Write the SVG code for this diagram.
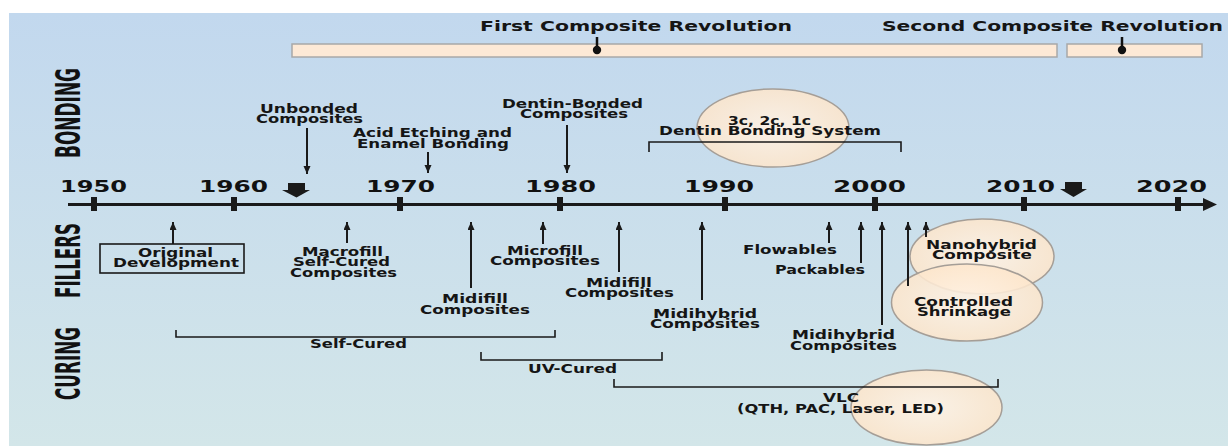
<svg xmlns="http://www.w3.org/2000/svg" width="1228" height="446" viewBox="0 0 1228 446">
<defs>
<linearGradient id="bg" x1="0" y1="0" x2="0" y2="1">
<stop offset="0" stop-color="#c2d8ee"/>
<stop offset="1" stop-color="#d3e6e9"/>
</linearGradient>
<radialGradient id="peach" cx="0.5" cy="0.5" r="0.5">
<stop offset="0" stop-color="#fff3e6"/>
<stop offset="1" stop-color="#fde6cc"/>
</radialGradient>
<marker id="ah" markerUnits="userSpaceOnUse" markerWidth="8" markerHeight="8" refX="8" refY="3.5" orient="auto">
<path d="M0,0 L8,3.5 L0,7 z" fill="#1a1a1a"/>
</marker>
<style>
.lbl{font-family:"DejaVu Sans",Verdana,sans-serif;font-weight:bold;font-size:12.5px;fill:#151515}
.rev{font-family:"DejaVu Sans",Verdana,sans-serif;font-weight:bold;font-size:14px;fill:#151515}
.yr{font-family:"DejaVu Sans",Verdana,sans-serif;font-weight:900;font-size:16.5px;fill:#111}
.cat{font-family:"DejaVu Sans Condensed","DejaVu Sans",sans-serif;font-weight:bold;font-size:33px;fill:#111}
.ln{stroke:#1a1a1a;stroke-width:2;fill:none}
.br{stroke:#1a1a1a;stroke-width:1.6;fill:none}
.ell{fill:url(#peach);fill-opacity:0.88;stroke:#a59e97;stroke-width:1.5}
.bar{fill:#fde9d6;stroke:#a8a8a8;stroke-width:1.5}
</style>
</defs>
<rect x="0" y="0" width="1228" height="446" fill="#ffffff"/>
<rect x="9" y="13" width="1219" height="433" fill="url(#bg)"/>

<g id="category-labels">
<text class="cat" transform="translate(80,158) rotate(-90)" textLength="90" lengthAdjust="spacingAndGlyphs">BONDING</text>
<text class="cat" transform="translate(80,298) rotate(-90)" textLength="75" lengthAdjust="spacingAndGlyphs">FILLERS</text>
<text class="cat" transform="translate(80,400) rotate(-90)" textLength="73" lengthAdjust="spacingAndGlyphs">CURING</text>
</g>

<g id="revolutions">
<rect class="bar" x="292" y="44" width="765" height="13"/>
<rect class="bar" x="1067" y="44" width="135" height="13"/>
<text class="rev" x="480" y="31" textLength="312" lengthAdjust="spacingAndGlyphs">First Composite Revolution</text>
<text class="rev" x="882" y="31" textLength="341" lengthAdjust="spacingAndGlyphs">Second Composite Revolution</text>
<line x1="597" y1="37" x2="597" y2="50" stroke="#111" stroke-width="2.5"/>
<circle cx="597" cy="50" r="4.2" fill="#111"/>
<line x1="1122" y1="37" x2="1122" y2="50" stroke="#111" stroke-width="2.5"/>
<circle cx="1122" cy="50" r="4.2" fill="#111"/>
</g>

<g id="ellipses">
<ellipse id="ell-bonding" class="ell" cx="773" cy="128" rx="76" ry="39"/>
<ellipse id="ell-nano" class="ell" cx="982" cy="256.5" rx="72" ry="37.5"/>
<ellipse id="ell-shrink" class="ell" cx="967" cy="302.5" rx="75.5" ry="38.5"/>
<ellipse id="ell-vlc" class="ell" cx="926.5" cy="407.5" rx="75.5" ry="37.5"/>
</g>

<g id="timeline">
<line x1="68" y1="204.5" x2="1205" y2="204.5" stroke="#1a1a1a" stroke-width="3"/>
<path d="M1203,198 L1217,204.5 L1203,211 z" fill="#1a1a1a"/>
<g fill="#1a1a1a">
<rect x="91" y="197" width="6" height="14"/>
<rect x="231" y="197" width="6" height="14"/>
<rect x="397" y="197" width="6" height="14"/>
<rect x="557" y="197" width="6" height="14"/>
<rect x="722" y="197" width="6" height="14"/>
<rect x="872" y="197" width="6" height="14"/>
<rect x="1021" y="197" width="6" height="14"/>
<rect x="1175" y="197" width="6" height="14"/>
</g>
<text class="yr" x="60" y="192" textLength="67" lengthAdjust="spacingAndGlyphs">1950</text>
<text class="yr" x="199" y="192" textLength="69" lengthAdjust="spacingAndGlyphs">1960</text>
<text class="yr" x="366" y="192" textLength="69" lengthAdjust="spacingAndGlyphs">1970</text>
<text class="yr" x="525" y="192" textLength="71" lengthAdjust="spacingAndGlyphs">1980</text>
<text class="yr" x="684" y="192" textLength="70" lengthAdjust="spacingAndGlyphs">1990</text>
<text class="yr" x="833" y="192" textLength="73" lengthAdjust="spacingAndGlyphs">2000</text>
<text class="yr" x="986" y="192" textLength="69" lengthAdjust="spacingAndGlyphs">2010</text>
<text class="yr" x="1136" y="192" textLength="71" lengthAdjust="spacingAndGlyphs">2020</text>
<path d="M288,183 H305 V190 H310 L296.5,197.5 L282,190 H288 z" fill="#1a1a1a"/>
<path d="M1065,182 H1082 V189 H1087 L1073.5,197 L1060,189 H1065 z" fill="#1a1a1a"/>
</g>

<g id="connectors">
<line class="ln" x1="307" y1="128" x2="307" y2="174" marker-end="url(#ah)"/>
<line class="ln" x1="428" y1="152" x2="428" y2="173" marker-end="url(#ah)"/>
<line class="ln" x1="567" y1="125" x2="567" y2="173" marker-end="url(#ah)"/>
<line class="ln" x1="173" y1="244" x2="173" y2="222" marker-end="url(#ah)"/>
<line class="ln" x1="347" y1="243" x2="347" y2="222" marker-end="url(#ah)"/>
<line class="ln" x1="471" y1="288" x2="471" y2="222" marker-end="url(#ah)"/>
<line class="ln" x1="543" y1="244" x2="543" y2="222" marker-end="url(#ah)"/>
<line class="ln" x1="619" y1="272" x2="619" y2="222" marker-end="url(#ah)"/>
<line class="ln" x1="702" y1="300" x2="702" y2="222" marker-end="url(#ah)"/>
<line class="ln" x1="829" y1="243" x2="829" y2="222" marker-end="url(#ah)"/>
<line class="ln" x1="861" y1="263" x2="861" y2="222" marker-end="url(#ah)"/>
<line class="ln" x1="882" y1="325" x2="882" y2="222" marker-end="url(#ah)"/>
<line class="ln" x1="908" y1="286" x2="908" y2="222" marker-end="url(#ah)"/>
<line class="ln" x1="926" y1="237" x2="926" y2="222" marker-end="url(#ah)"/>
<path class="br" d="M649,152 V142 H901 V152"/>
<path class="br" d="M176,330 V337 H555 V330"/>
<path class="br" d="M481,352 V360 H662 V352"/>
<path class="br" d="M614,379 V387 H998 V379"/>
</g>

<g id="unbonded">
<text class="lbl" x="260" y="113" textLength="98" lengthAdjust="spacingAndGlyphs">Unbonded</text>
<text class="lbl" x="256" y="123" textLength="107" lengthAdjust="spacingAndGlyphs">Composites</text>
</g>
<g id="acid-etching">
<text class="lbl" x="353" y="137" textLength="159" lengthAdjust="spacingAndGlyphs">Acid Etching and</text>
<text class="lbl" x="357" y="148" textLength="152" lengthAdjust="spacingAndGlyphs">Enamel Bonding</text>
</g>
<g id="dentin-bonded">
<text class="lbl" x="502" y="108" textLength="141" lengthAdjust="spacingAndGlyphs">Dentin-Bonded</text>
<text class="lbl" x="520" y="118" textLength="108" lengthAdjust="spacingAndGlyphs">Composites</text>
</g>
<g id="dentin-system">
<text class="lbl" x="728" y="125" textLength="83" lengthAdjust="spacingAndGlyphs">3c, 2c, 1c</text>
<text class="lbl" x="659" y="135" textLength="222" lengthAdjust="spacingAndGlyphs">Dentin Bonding System</text>
</g>
<g id="original">
<rect x="100" y="244" width="144" height="29" fill="none" stroke="#1a1a1a" stroke-width="1.6"/>
<text class="lbl" x="138" y="257" textLength="75" lengthAdjust="spacingAndGlyphs">Original</text>
<text class="lbl" x="113" y="267" textLength="126" lengthAdjust="spacingAndGlyphs">Development</text>
</g>
<g id="macrofill">
<text class="lbl" x="302" y="256" textLength="81" lengthAdjust="spacingAndGlyphs">Macrofill</text>
<text class="lbl" x="293" y="266" textLength="97" lengthAdjust="spacingAndGlyphs">Self-Cured</text>
<text class="lbl" x="290" y="277" textLength="107" lengthAdjust="spacingAndGlyphs">Composites</text>
</g>
<g id="midifill-1">
<text class="lbl" x="442" y="303" textLength="66" lengthAdjust="spacingAndGlyphs">Midifill</text>
<text class="lbl" x="420" y="314" textLength="110" lengthAdjust="spacingAndGlyphs">Composites</text>
</g>
<g id="microfill">
<text class="lbl" x="507" y="255" textLength="76" lengthAdjust="spacingAndGlyphs">Microfill</text>
<text class="lbl" x="490" y="265" textLength="110" lengthAdjust="spacingAndGlyphs">Composites</text>
</g>
<g id="midifill-2">
<text class="lbl" x="586" y="287" textLength="66" lengthAdjust="spacingAndGlyphs">Midifill</text>
<text class="lbl" x="565" y="297" textLength="109" lengthAdjust="spacingAndGlyphs">Composites</text>
</g>
<g id="midihybrid-1">
<text class="lbl" x="653" y="318" textLength="104" lengthAdjust="spacingAndGlyphs">Midihybrid</text>
<text class="lbl" x="650" y="328" textLength="110" lengthAdjust="spacingAndGlyphs">Composites</text>
</g>
<g id="flowables">
<text class="lbl" x="743" y="254" textLength="94" lengthAdjust="spacingAndGlyphs">Flowables</text>
</g>
<g id="packables">
<text class="lbl" x="775" y="274" textLength="90" lengthAdjust="spacingAndGlyphs">Packables</text>
</g>
<g id="midihybrid-2">
<text class="lbl" x="792" y="339" textLength="103" lengthAdjust="spacingAndGlyphs">Midihybrid</text>
<text class="lbl" x="790" y="350" textLength="107" lengthAdjust="spacingAndGlyphs">Composites</text>
</g>
<g id="nanohybrid">
<text class="lbl" x="926" y="249" textLength="111" lengthAdjust="spacingAndGlyphs">Nanohybrid</text>
<text class="lbl" x="932" y="259" textLength="100" lengthAdjust="spacingAndGlyphs">Composite</text>
</g>
<g id="controlled-shrinkage">
<text class="lbl" x="914" y="306" textLength="99" lengthAdjust="spacingAndGlyphs">Controlled</text>
<text class="lbl" x="917" y="316" textLength="94" lengthAdjust="spacingAndGlyphs">Shrinkage</text>
</g>
<g id="self-cured">
<text class="lbl" x="310" y="348" textLength="97" lengthAdjust="spacingAndGlyphs">Self-Cured</text>
</g>
<g id="uv-cured">
<text class="lbl" x="528" y="373" textLength="89" lengthAdjust="spacingAndGlyphs">UV-Cured</text>
</g>
<g id="vlc">
<text class="lbl" x="823" y="402" textLength="36" lengthAdjust="spacingAndGlyphs">VLC</text>
<text class="lbl" x="737" y="413" textLength="207" lengthAdjust="spacingAndGlyphs">(QTH, PAC, Laser, LED)</text>
</g>
</svg>
